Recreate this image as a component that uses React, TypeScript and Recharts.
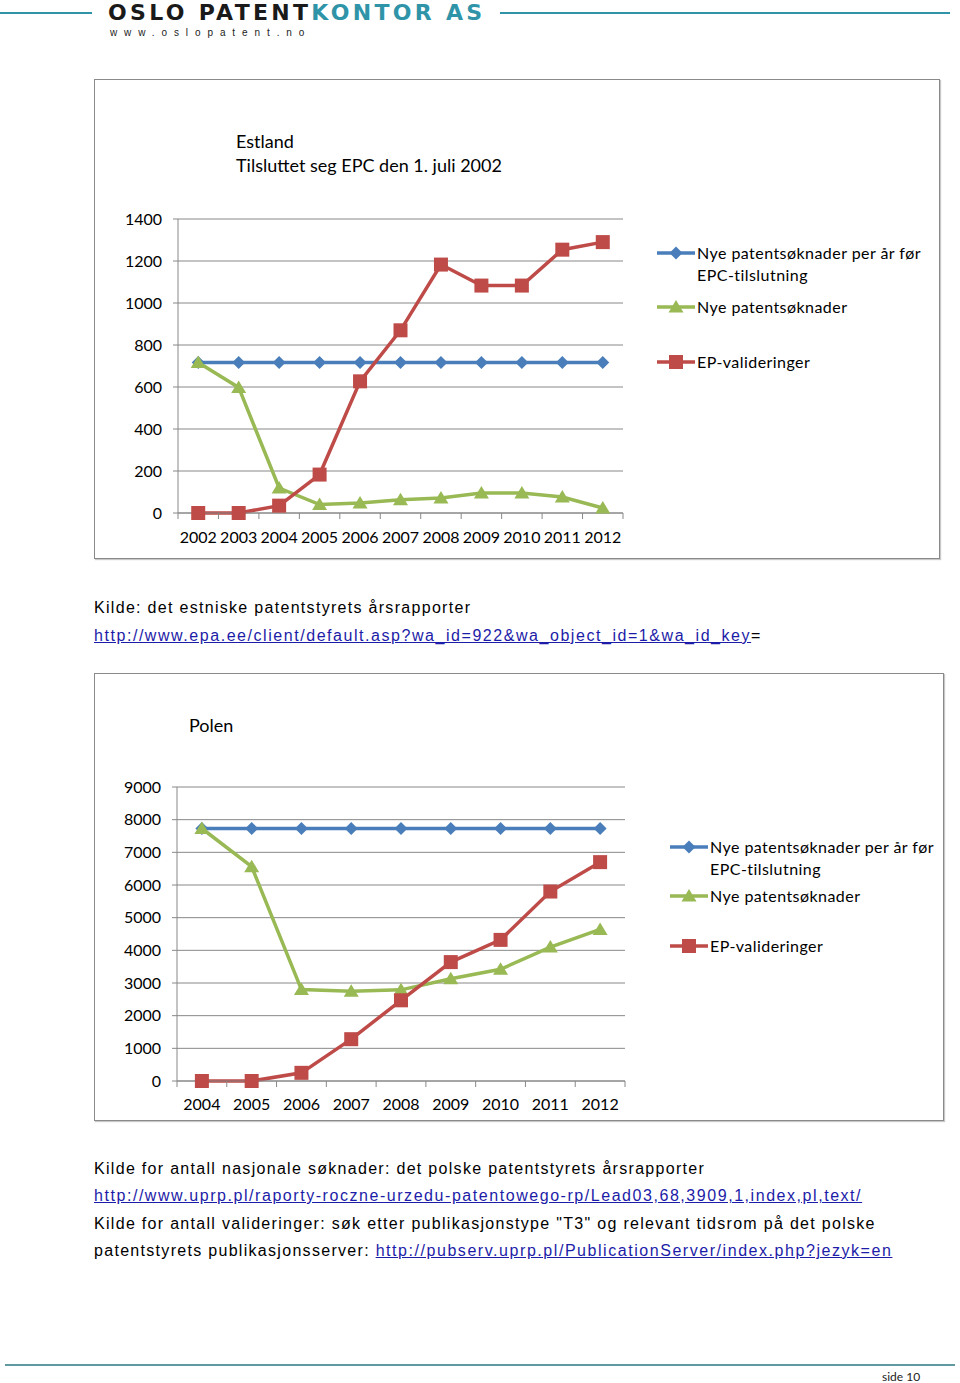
import React from "react";
import { CartesianGrid, Legend, Line, LineChart, XAxis, YAxis } from "recharts";

// Estland
const EST_YEARS = ["2002", "2003", "2004", "2005", "2006", "2007", "2008", "2009", "2010", "2011", "2012"];
const EST_BEFORE = [717, 717, 717, 717, 717, 717, 717, 717, 717, 717, 717];
const EST_NEW = [717, 598, 119, 40, 48, 63, 71, 95, 95, 76, 24];
const EST_VALID = [0, 0, 35, 183, 627, 870, 1183, 1083, 1083, 1254, 1290];
const EST_TICKS = [0, 200, 400, 600, 800, 1000, 1200, 1400];

// Polen
const POL_YEARS = ["2004", "2005", "2006", "2007", "2008", "2009", "2010", "2011", "2012"];
const POL_BEFORE = [7730, 7730, 7730, 7730, 7730, 7730, 7730, 7730, 7730];
const POL_NEW = [7730, 6560, 2800, 2750, 2790, 3130, 3420, 4100, 4640];
const POL_VALID = [0, 0, 250, 1280, 2470, 3640, 4320, 5800, 6700];
const POL_TICKS = [0, 1000, 2000, 3000, 4000, 5000, 6000, 7000, 8000, 9000];

const SERIES_NAMES = [
  "Nye patentsøknader per år før EPC-tilslutning",
  "Nye patentsøknader",
  "EP-valideringer",
];

const FONT = "Lato, 'Open Sans', sans-serif";
const TEXT_FONT = "'Liberation Sans', Arial, sans-serif";
const BLUE = "#4a7ebb";
const GREEN = "#98b954";
const RED = "#be4b48";
const GRID = "#888888";
const TEAL = "#2f94a8";
const LINK = "#1c1ca8";

function Diamond(p: any) {
  const { cx, cy } = p;
  if (cx == null || cy == null) return <g />;
  const r = 6.5;
  return <path d={`M${cx},${cy - r}L${cx + r},${cy}L${cx},${cy + r}L${cx - r},${cy}Z`} fill={BLUE} />;
}

function Triangle(p: any) {
  const { cx, cy } = p;
  if (cx == null || cy == null) return <g />;
  return <path d={`M${cx},${cy - 7}L${cx + 7.5},${cy + 5.5}L${cx - 7.5},${cy + 5.5}Z`} fill={GREEN} />;
}

function Square(p: any) {
  const { cx, cy } = p;
  if (cx == null || cy == null) return <g />;
  return <rect x={cx - 7} y={cy - 7} width={14} height={14} fill={RED} />;
}

const MARKERS = [Diamond, Triangle, Square];
const COLORS = [BLUE, GREEN, RED];

function LegendIcon({ i }: { i: number }) {
  const M = MARKERS[i];
  return (
    <svg width={40} height={16} style={{ flex: "none", marginTop: 3 }}>
      <line x1={0} x2={38} y1={8} y2={8} stroke={COLORS[i]} strokeWidth={3.5} />
      <M cx={19} cy={8} />
    </svg>
  );
}

function makeLegend(tops: number[]) {
  return () => (
    <div style={{ position: "relative", width: 250, height: 140 }}>
      {SERIES_NAMES.map((name, i) => (
        <div
          key={name}
          style={{ position: "absolute", left: 0, top: tops[i], display: "flex", alignItems: "flex-start" }}
        >
          <LegendIcon i={i} />
          <span
            style={{
              width: 234,
              fontFamily: FONT,
              fontSize: 16,
              letterSpacing: 0.45,
              lineHeight: "22px",
              color: "#000",
            }}
          >
            {name}
          </span>
        </div>
      ))}
    </div>
  );
}

// årstall midt i hver kategori, små streker på kategorigrensene
function makeXTick(band: number, offset: number) {
  return (p: any) => {
    const { x, y, payload, index } = p;
    return (
      <g>
        {index === 0 && <line x1={x - band / 2} x2={x - band / 2} y1={y} y2={y + 6} stroke={GRID} />}
        <line x1={x + band / 2} x2={x + band / 2} y1={y} y2={y + 6} stroke={GRID} />
        <text x={x} y={y + offset} dy="0.35em" textAnchor="middle" fill="#000" fontFamily={FONT} fontSize={16}>
          {payload.value}
        </text>
      </g>
    );
  };
}

interface ChartProps {
  left: number;
  top: number;
  width: number;
  height: number;
  years: string[];
  before: number[];
  added: number[];
  valid: number[];
  ticks: number[];
  margin: { top: number; right: number; bottom: number };
  yWidth: number;
  xOffset: number;
  legendLeft: number;
  legendTops: number[];
  titles: { text: string; x: number; y: number }[];
}

function PatentChart(c: ChartProps) {
  const data = c.years.map((year, i) => ({
    year,
    before: c.before[i],
    added: c.added[i],
    valid: c.valid[i],
  }));
  const band = (c.width - c.yWidth - c.margin.right) / c.years.length;
  const max = c.ticks[c.ticks.length - 1];
  return (
    <div
      style={{
        position: "absolute",
        left: c.left,
        top: c.top,
        width: c.width,
        height: c.height,
        background: "#fff",
      }}
    >
      <div
        style={{
          position: "absolute",
          inset: 0,
          border: "1px solid #8a8a8a",
          boxShadow: "1px 1px 1px #c8c8c8",
          pointerEvents: "none",
        }}
      />
      {c.titles.map((t) => (
        <div
          key={t.text}
          style={{
            position: "absolute",
            left: t.x,
            top: t.y - 12,
            fontFamily: FONT,
            fontSize: 18,
            lineHeight: "24px",
            whiteSpace: "nowrap",
            color: "#000",
          }}
        >
          {t.text}
        </div>
      ))}
      <LineChart
        width={c.width}
        height={c.height}
        data={data}
        margin={{ top: c.margin.top, right: c.margin.right, bottom: c.margin.bottom, left: 0 }}
      >
        <CartesianGrid vertical={false} stroke={GRID} strokeWidth={1} />
        <XAxis
          dataKey="year"
          scale="band"
          height={30}
          axisLine={{ stroke: GRID }}
          tickLine={false}
          tickSize={0}
          tickMargin={0}
          interval={0}
          tick={makeXTick(band, c.xOffset)}
        />
        <YAxis
          width={c.yWidth}
          domain={[0, max]}
          ticks={c.ticks}
          interval={0}
          axisLine={{ stroke: GRID }}
          tickLine={{ stroke: GRID }}
          tickSize={5}
          tickMargin={11}
          tick={{ fill: "#000", fontFamily: FONT, fontSize: 16 }}
        />
        <Legend
          layout="vertical"
          align="center"
          verticalAlign="middle"
          content={makeLegend(c.legendTops)}
          wrapperStyle={{ left: c.legendLeft, top: 0, width: 280 }}
        />
        <Line
          name={SERIES_NAMES[0]}
          dataKey="before"
          stroke={BLUE}
          strokeWidth={3.5}
          dot={<Diamond />}
          isAnimationActive={false}
        />
        <Line
          name={SERIES_NAMES[1]}
          dataKey="added"
          stroke={GREEN}
          strokeWidth={3.5}
          dot={<Triangle />}
          isAnimationActive={false}
        />
        <Line
          name={SERIES_NAMES[2]}
          dataKey="valid"
          stroke={RED}
          strokeWidth={3.5}
          dot={<Square />}
          isAnimationActive={false}
        />
      </LineChart>
    </div>
  );
}

function TextLine({ top, children }: { top: number; children: React.ReactNode }) {
  return (
    <div
      style={{
        position: "absolute",
        left: 94,
        top: top - 10,
        fontFamily: TEXT_FONT,
        fontSize: 16,
        letterSpacing: 1.3,
        lineHeight: "20px",
        whiteSpace: "nowrap",
        color: "#000",
      }}
    >
      {children}
    </div>
  );
}

const linkStyle: React.CSSProperties = { color: LINK, textDecoration: "underline", letterSpacing: 1.55 };

export default function App() {
  return (
    <div style={{ position: "absolute", left: 0, top: 0, width: 960, height: 1383, background: "#fff", overflow: "hidden" }}>
      {/* topptekst */}
      <div style={{ position: "absolute", left: 0, top: 12, width: 92, height: 2, background: TEAL }} />
      <div style={{ position: "absolute", left: 500, top: 12, width: 450, height: 2, background: TEAL }} />
      <div
        style={{
          position: "absolute",
          left: 108,
          top: 0,
          fontFamily: "'DejaVu Sans', sans-serif",
          fontWeight: 700,
          fontSize: 22,
          lineHeight: "25px",
          letterSpacing: 3.3,
          whiteSpace: "nowrap",
        }}
      >
        <span style={{ color: "#1a1a1a" }}>OSLO PATENT</span>
        <span style={{ color: TEAL }}>KONTOR AS</span>
      </div>
      <div
        style={{
          position: "absolute",
          left: 110,
          top: 26,
          fontFamily: "'Liberation Sans', sans-serif",
          fontSize: 10,
          letterSpacing: 6.9,
          lineHeight: "14px",
          color: "#222",
          whiteSpace: "nowrap",
        }}
      >
        www.oslopatent.no
      </div>

      <PatentChart
        left={94}
        top={79}
        width={846}
        height={480}
        years={EST_YEARS}
        before={EST_BEFORE}
        added={EST_NEW}
        valid={EST_VALID}
        ticks={EST_TICKS}
        margin={{ top: 140, right: 317, bottom: 16 }}
        yWidth={84}
        xOffset={24}
        legendLeft={563}
        legendTops={[163, 217, 272]}
        titles={[
          { text: "Estland", x: 142, y: 62 },
          { text: "Tilsluttet seg EPC den 1. juli 2002", x: 142, y: 86 },
        ]}
      />

      <TextLine top={608}>Kilde: det estniske patentstyrets årsrapporter</TextLine>
      <TextLine top={636}>
        <span style={linkStyle}>http://www.epa.ee/client/default.asp?wa_id=922&amp;wa_object_id=1&amp;wa_id_key</span>=
      </TextLine>

      <PatentChart
        left={94}
        top={673}
        width={850}
        height={448}
        years={POL_YEARS}
        before={POL_BEFORE}
        added={POL_NEW}
        valid={POL_VALID}
        ticks={POL_TICKS}
        margin={{ top: 114, right: 319, bottom: 10 }}
        yWidth={83}
        xOffset={23}
        legendLeft={576}
        legendTops={[163, 212, 262]}
        titles={[{ text: "Polen", x: 95, y: 52 }]}
      />

      <TextLine top={1169}>Kilde for antall nasjonale søknader: det polske patentstyrets årsrapporter</TextLine>
      <TextLine top={1196}>
        <span style={linkStyle}>http://www.uprp.pl/raporty-roczne-urzedu-patentowego-rp/Lead03,68,3909,1,index,pl,text/</span>
      </TextLine>
      <TextLine top={1224}>
        Kilde for antall valideringer: søk etter publikasjonstype "T3" og relevant tidsrom på det polske
      </TextLine>
      <TextLine top={1251}>
        patentstyrets publikasjonsserver: <span style={linkStyle}>http://pubserv.uprp.pl/PublicationServer/index.php?jezyk=en</span>
      </TextLine>

      {/* bunntekst */}
      <div style={{ position: "absolute", left: 5, top: 1364, width: 950, height: 2, background: "#5f9aa3" }} />
      <div
        style={{
          position: "absolute",
          left: 882,
          top: 1369,
          fontFamily: "Lato, sans-serif",
          fontSize: 12,
          lineHeight: "16px",
          color: "#222",
        }}
      >
        side 10
      </div>
    </div>
  );
}
